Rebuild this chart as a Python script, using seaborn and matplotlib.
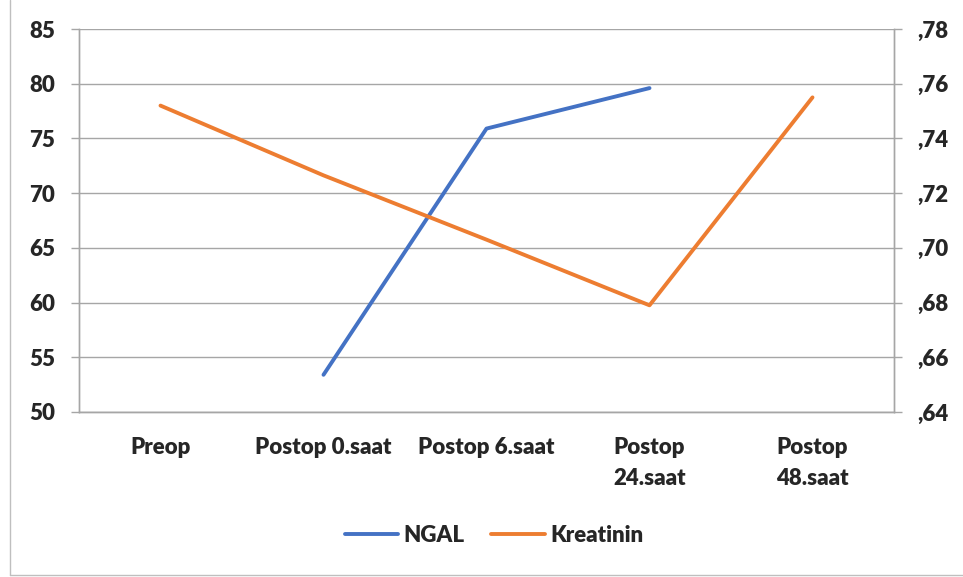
#!/usr/bin/env python3
import numpy as np
import pandas as pd
import matplotlib as mpl
mpl.use('Agg')
import matplotlib.pyplot as plt
import matplotlib.ticker as mticker
from matplotlib.lines import Line2D
import seaborn as sns

# ------------------------------------------------------------------
# Data
categories = ['Preop', 'Postop 0.saat', 'Postop 6.saat',
              'Postop\n24.saat', 'Postop\n48.saat']
ngal = [np.nan, 53.4, 75.9, 79.6, np.nan]
kreatinin = [0.752, 0.7265, 0.703, 0.679, 0.755]
left_ticks = [50, 55, 60, 65, 70, 75, 80, 85]
right_ticks = [0.64, 0.66, 0.68, 0.70, 0.72, 0.74, 0.76, 0.78]

blue = '#4472C4'
orange = '#ED7D31'
grid = '#A6A6A6'
fs = 16

df = pd.DataFrame({'pos': np.arange(len(categories)),
                   'NGAL': ngal, 'Kreatinin': kreatinin})

# ------------------------------------------------------------------
# Plot
sns.set_style('white')
plt.rcParams['font.family'] = ['Lato', 'DejaVu Sans']
plt.rcParams['font.weight'] = 'bold'

W, H = 963, 577
fig = plt.figure(figsize=(W / 100, H / 100), dpi=100)
ax = fig.add_axes([79 / W, 1 - 412 / H, (894 - 79) / W, (412 - 29) / H])
ax2 = ax.twinx()

sns.lineplot(data=df, x='pos', y='NGAL', ax=ax, color=blue, lw=2.8,
             legend=False)
sns.lineplot(data=df, x='pos', y='Kreatinin', ax=ax2, color=orange, lw=2.8,
             legend=False)

ax.set_xlim(-0.5, len(categories) - 0.5)
ax.set_ylim(left_ticks[0], left_ticks[-1])
ax2.set_ylim(right_ticks[0], right_ticks[-1])
ax.set_yticks(left_ticks)
ax2.set_yticks(right_ticks)
ax2.yaxis.set_major_formatter(
    mticker.FuncFormatter(lambda v, p: f'{v:.2f}'.replace('0.', ',', 1)))

ax.set_xticks(df['pos'])
ax.set_xticklabels(categories, linespacing=1.6, va='top')
ax.set_xticks(np.arange(len(categories) + 1) - 0.5, minor=True)
ax.tick_params(axis='x', which='major', length=0, pad=18, labelsize=fs)
ax.tick_params(axis='x', which='minor', length=11, width=1, color=grid,
               direction='out')
ax.tick_params(axis='y', length=6, width=1, color=grid, pad=11,
               labelsize=fs)
ax2.tick_params(axis='y', length=6, width=1, color=grid, pad=11,
                labelsize=fs)

ax.set_xlabel('')
ax.set_ylabel('')
ax2.set_ylabel('')
ax.grid(axis='y', color=grid, lw=1)
ax.set_axisbelow(True)

for a in (ax, ax2):
    a.spines['top'].set_visible(False)
    for side in ('left', 'right', 'bottom'):
        a.spines[side].set_color(grid)
        a.spines[side].set_linewidth(1)

handles = [Line2D([], [], color=blue, lw=2.8),
           Line2D([], [], color=orange, lw=2.8)]
fig.legend(handles, ['NGAL', 'Kreatinin'], loc='center',
           bbox_to_anchor=(494 / W, 1 - 535 / H), ncol=2, frameon=False,
           handlelength=2.4, handletextpad=0.25, columnspacing=1.2,
           prop={'weight': 'heavy', 'size': fs})

# outer chart frame
fig.add_artist(Line2D([10 / W, 10 / W], [1 - 575 / H, 1.0],
                      transform=fig.transFigure, color='#BFBFBF', lw=1))
fig.add_artist(Line2D([10 / W, 1.0], [1 - 575 / H, 1 - 575 / H],
                      transform=fig.transFigure, color='#BFBFBF', lw=1))

fig.canvas.draw()
for lab in (ax.get_xticklabels() + ax.get_yticklabels()
            + ax2.get_yticklabels()):
    lab.set_fontweight('heavy')

fig.savefig('out.png', dpi=100)
